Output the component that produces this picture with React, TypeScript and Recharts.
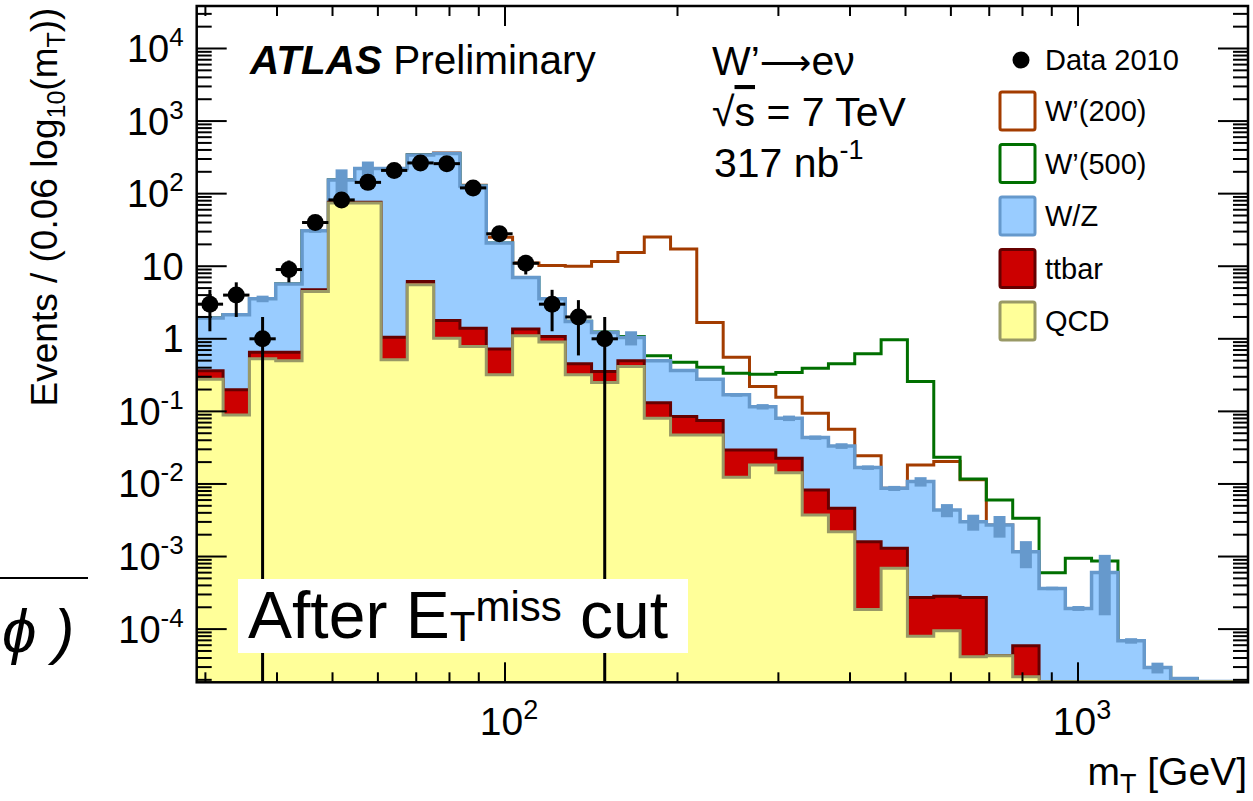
import React from "react";
import { ComposedChart, Area, Scatter, ErrorBar, XAxis, YAxis } from "recharts";

const W = 1253;
const H = 801;
const PLOT_LEFT = 196.7;
const PLOT_TOP = 6;
const PLOT_RIGHT = 1248;
const PLOT_BOTTOM = 682.3;
const X_MIN = 28.97;
const X_MAX = 1980;
const Y_MIN = 1.85e-5;
const Y_MAX = 3.85e4;
const FONT = "'Liberation Sans', Arial, Helvetica, sans-serif";

// m_T bin edges [GeV], 40 bins
const binEdges = [
  28.97, 32.21, 35.81, 39.8, 44.24, 49.18, 54.67, 60.77, 67.53, 75.06, 83.43,
  92.75, 103.1, 114.6, 127.4, 141.6, 157.4, 175.0, 194.5, 216.1, 240.3, 267.1,
  296.9, 330.1, 366.8, 407.7, 453.3, 503.8, 560.1, 622.6, 691.8, 769.2, 855.1,
  950.2, 1056, 1174, 1305, 1451, 1613, 1792, 1992,
];

// stacked levels as drawn: QCD, QCD+ttbar, QCD+ttbar+W/Z
const qcd = [
  0.278, 0.0895, 0.53, 0.5, 4.49, 74.5, 74.5, 0.513, 5.56, 1.02, 0.783, 0.319,
  1.1, 0.9, 0.319, 0.25, 0.415, 0.0805, 0.0474, 0.0474, 0.0124, 0.0183, 0.0143,
  0.00373, 0.0022, 1.87e-4, 6.87e-4, 8.0e-5, 9.5e-5, 4.15e-5, 4.3e-5, 2.2e-5,
  1.9e-5, 1.9e-5, 1.9e-5, 1.9e-5, 1.9e-5, 1.9e-5, 1.9e-5, 1.9e-5,
];
const qcdTtbar = [
  0.362, 0.198, 0.655, 0.655, 4.74, 76, 76, 1.05, 6.17, 1.79, 1.4, 0.721, 1.36,
  1.08, 0.452, 0.354, 0.5, 0.132, 0.0849, 0.0746, 0.0294, 0.0294, 0.0226,
  0.00826, 0.00462, 0.0016, 0.0013, 2.73e-4, 2.83e-4, 2.73e-4, 4.3e-5, 5.9e-5,
  1.9e-5, 1.9e-5, 1.9e-5, 1.9e-5, 1.9e-5, 1.9e-5, 1.9e-5, 1.9e-5,
];
const total = [
  1.93, 2.14, 3.56, 5.68, 30.9, 154, 222, 222, 340, 358, 127, 20.9, 7.0, 3.56,
  1.73, 1.22, 1.04, 0.497, 0.366, 0.278, 0.169, 0.116, 0.0805, 0.0435, 0.0334,
  0.0168, 0.0087, 0.0108, 0.00438, 0.00302, 0.00272, 0.00116, 3.64e-4, 1.93e-4,
  6.05e-4, 6.9e-5, 2.95e-5, 2.09e-5, 1.9e-5, 1.9e-5,
];
// MC stat. uncertainty on the total
const totalErr = [
  0, 0, 0.37, 0, 2, 62, 55, 0, 0, 0, 0, 0, 0, 0, 0, 0, 0.23, 0, 0, 0, 0.01,
  0.01, 0.007, 0.003, 0.003, 0.0012, 0.0007, 0.0016, 0.0009, 0.00075, 0.0009,
  0.00047, 2e-5, 1.5e-5, 4.5e-4, 6e-6, 5e-6, 0, 0, 0,
];
// signal + background
const wPrime200 = [
  1.93, 2.14, 3.56, 5.68, 30.9, 154, 222, 222, 345, 362, 131, 25, 11.1, 10.2,
  9.96, 11.6, 15.5, 25.2, 17.3, 1.68, 0.559, 0.22, 0.157, 0.0943, 0.0568,
  0.0245, 0.0087, 0.0183, 0.0204, 0.0114, 0.00272, 0.00116, 3.64e-4, 1.93e-4,
  6.05e-4, 6.9e-5, 2.95e-5, 2.09e-5, 1.9e-5, 1.9e-5,
];
const wPrime500 = [
  1.93, 2.14, 3.56, 5.68, 30.9, 154, 222, 222, 340, 358, 127, 20.9, 7.0, 3.56,
  1.75, 1.24, 1.08, 0.583, 0.477, 0.407, 0.336, 0.326, 0.343, 0.394, 0.452,
  0.62, 0.97, 0.258, 0.0234, 0.0117, 0.006, 0.00338, 5.97e-4, 9.5e-4, 8.7e-4,
  6.9e-5, 2.95e-5, 2.09e-5, 1.9e-5, 1.9e-5,
];

// Data 2010, first 16 bins
const dataCounts = [3, 4, 1, 9, 40, 82, 143, 209, 265, 259, 120, 28, 11, 3, 2, 1];
const dataErr = [1.73, 2, 1, 3, 6.3, 9.1, 12, 14.5, 16.3, 16.1, 11, 5.3, 3.3, 1.73, 1.41, 1];

const yDecades = [1e-5, 1e-4, 1e-3, 1e-2, 1e-1, 1, 10, 100, 1000, 1e4];
const xDecades = [10, 100, 1000];
const minorSteps = [1, 2, 3, 4, 5, 6, 7, 8, 9];

const yTicks = yDecades
  .flatMap((d) => minorSteps.map((m) => m * d))
  .filter((v) => v >= Y_MIN && v <= Y_MAX);
const xTicks = xDecades
  .flatMap((d) => minorSteps.map((m) => m * d))
  .filter((v) => v >= X_MIN && v <= X_MAX);

const histRows = binEdges.map((x, k) => {
  const i = Math.min(k, total.length - 1);
  return {
    x,
    qcd: qcd[i],
    ttbar: qcdTtbar[i],
    wz: total[i],
    w200: wPrime200[i],
    w500: wPrime500[i],
  };
});

const centre = (k: number) => Math.sqrt(binEdges[k] * binEdges[k + 1]);

const dataRows = dataCounts.map((n, k) => {
  const c = centre(k);
  return {
    x: c,
    y: n,
    ex: [c - binEdges[k], binEdges[k + 1] - c],
    ey: [Math.min(dataErr[k], n - Y_MIN * 1.02), dataErr[k]],
  };
});

const mcRows = total
  .map((v, k) => ({ x: centre(k), y: v, ey: totalErr[k] }))
  .filter((r) => r.ey > 0);

const isPow10 = (v: number) => {
  const e = Math.log10(v);
  return Math.abs(e - Math.round(e)) < 1e-9;
};

const PowLabel = ({ x, y, value, anchor, fs, supFs }: any) => {
  const e = Math.round(Math.log10(value));
  const common = { x, y, textAnchor: anchor, fontSize: fs, fontFamily: FONT, fill: "#000" };
  if (e === 0) return <text {...common}>1</text>;
  if (e === 1) return <text {...common}>10</text>;
  return (
    <text {...common}>
      10
      <tspan dy={-fs * 0.42} fontSize={supFs}>
        {e}
      </tspan>
    </text>
  );
};

const YTick = (props: any) => {
  const { y, payload } = props;
  const major = isPow10(payload.value);
  const len = major ? 30 : 15;
  return (
    <g>
      <line x1={PLOT_LEFT} x2={PLOT_LEFT + len} y1={y} y2={y} stroke="#000" strokeWidth={2} />
      <line x1={PLOT_RIGHT - len} x2={PLOT_RIGHT} y1={y} y2={y} stroke="#000" strokeWidth={2} />
      {major && (
        <PowLabel x={PLOT_LEFT - 13} y={y + 13.5} value={payload.value} anchor="end" fs={38} supFs={26} />
      )}
    </g>
  );
};

const XTick = (props: any) => {
  const { x, payload } = props;
  const major = isPow10(payload.value);
  const len = major ? 20 : 10;
  return (
    <g>
      <line x1={x} x2={x} y1={PLOT_BOTTOM} y2={PLOT_BOTTOM - len} stroke="#000" strokeWidth={2} />
      <line x1={x} x2={x} y1={PLOT_TOP} y2={PLOT_TOP + len} stroke="#000" strokeWidth={2} />
      {major && (
        <PowLabel x={x + 4} y={PLOT_BOTTOM + 53} value={payload.value} anchor="middle" fs={39} supFs={27} />
      )}
    </g>
  );
};

const legendItems = [
  { label: "W\u2019(200)", fill: "#ffffff", stroke: "#a33c00" },
  { label: "W\u2019(500)", fill: "#ffffff", stroke: "#006f00" },
  { label: "W/Z", fill: "#99ccff", stroke: "#6699cc" },
  { label: "ttbar", fill: "#cc0000", stroke: "#660000" },
  { label: "QCD", fill: "#ffff99", stroke: "#999966" },
];

const noShape = () => <g />;
const dot = (p: any) => <circle cx={p.cx} cy={p.cy} r={8.5} fill="#000" />;

export default function App() {
  return (
    <div style={{ position: "absolute", left: 0, top: 0, width: W, height: H, background: "#fff" }}>
      <ComposedChart
        width={W}
        height={H}
        data={histRows}
        margin={{ top: PLOT_TOP, right: W - PLOT_RIGHT, bottom: 58.7, left: 46.7 }}
      >
        <Area type="stepAfter" dataKey="w200" stroke="#a33c00" strokeWidth={3} fill="none"
          baseValue={Y_MIN} dot={false} activeDot={false} isAnimationActive={false} />
        <Area type="stepAfter" dataKey="w500" stroke="#006f00" strokeWidth={3} fill="none"
          baseValue={Y_MIN} dot={false} activeDot={false} isAnimationActive={false} />
        <Area type="stepAfter" dataKey="wz" stroke="#6699cc" strokeWidth={3.5} fill="#99ccff" fillOpacity={1}
          baseValue={Y_MIN} dot={false} activeDot={false} isAnimationActive={false} />
        <Area type="stepAfter" dataKey="ttbar" stroke="#660000" strokeWidth={3} fill="#cc0000" fillOpacity={1}
          baseValue={Y_MIN} dot={false} activeDot={false} isAnimationActive={false} />
        <Area type="stepAfter" dataKey="qcd" stroke="#999966" strokeWidth={3} fill="#ffff99" fillOpacity={1}
          baseValue={Y_MIN} dot={false} activeDot={false} isAnimationActive={false} />
        <Scatter data={mcRows} dataKey="y" shape={noShape} isAnimationActive={false}>
          <ErrorBar dataKey="ey" direction="y" width={0} stroke="#6699cc" strokeWidth={12} isAnimationActive={false} />
        </Scatter>
        <Scatter data={dataRows} dataKey="y" shape={dot} isAnimationActive={false}>
          <ErrorBar dataKey="ey" direction="y" width={0} stroke="#000" strokeWidth={3} isAnimationActive={false} />
          <ErrorBar dataKey="ex" direction="x" width={0} stroke="#000" strokeWidth={3} isAnimationActive={false} />
        </Scatter>
        <XAxis
          dataKey="x"
          type="number"
          scale="log"
          domain={[X_MIN, X_MAX]}
          allowDataOverflow
          ticks={xTicks}
          interval={0}
          tick={<XTick />}
          tickLine={false}
          axisLine={false}
          height={60}
        />
        <YAxis
          type="number"
          scale="log"
          domain={[Y_MIN, Y_MAX]}
          allowDataOverflow
          ticks={yTicks}
          interval={0}
          tick={<YTick />}
          tickLine={false}
          axisLine={false}
          width={150}
        />
      </ComposedChart>

      <svg
        width={W}
        height={H}
        style={{ position: "absolute", left: 0, top: 0, pointerEvents: "none" }}
        fontFamily={FONT}
      >
        <rect
          x={PLOT_LEFT}
          y={PLOT_TOP}
          width={PLOT_RIGHT - PLOT_LEFT}
          height={PLOT_BOTTOM - PLOT_TOP}
          fill="none"
          stroke="#000"
          strokeWidth={2.5}
        />

        {/* label box */}
        <rect x={238} y={579} width={450} height={74} fill="#fff" />
        <text x={248} y={638} fontSize={66}>
          After E
          <tspan dy={3} fontSize={42}>T</tspan>
          <tspan dy={-20} fontSize={42}>miss</tspan>
          <tspan dy={17}> cut</tspan>
        </text>

        <text x={250} y={74} fontSize={40.5}>
          <tspan fontWeight="bold" fontStyle="italic">ATLAS</tspan>
          <tspan> Preliminary</tspan>
        </text>
        <text x={712} y={75} fontSize={41}>
          W{"\u2019"}
          <tspan fontFamily="'DejaVu Sans', sans-serif" fontSize={36}>{"\u27f6"}</tspan>
          e{"\u03bd"}
        </text>
        <text x={712} y={126} fontSize={41}>
          {"\u221a"}
          <tspan style={{ textDecoration: "overline" }}>s</tspan> = 7 TeV
        </text>
        <text x={714} y={177} fontSize={41}>
          317 nb
          <tspan dy={-18} fontSize={27}>-1</tspan>
        </text>

        {/* legend */}
        <circle cx={1021} cy={60} r={8.5} fill="#000" />
        <text x={1045} y={70} fontSize={29}>Data 2010</text>
        {legendItems.map((it, i) => {
          const cy = 111 + i * 52.5;
          return (
            <g key={it.label}>
              <rect x={1000} y={cy - 19} width={35} height={38} rx={2} fill={it.fill} stroke={it.stroke} strokeWidth={3} />
              <text x={1045} y={cy + 10} fontSize={29}>{it.label}</text>
            </g>
          );
        })}

        {/* axis titles */}
        <text transform="translate(57,207) rotate(-90)" textAnchor="middle" fontSize={37}>
          Events / (0.06 log
          <tspan dy={8} fontSize={25}>10</tspan>
          <tspan dy={-8}>(m</tspan>
          <tspan dy={8} fontSize={25}>T</tspan>
          <tspan dy={-8}>))</tspan>
        </text>
        <text x={1247} y={785} textAnchor="end" fontSize={39}>
          m<tspan dy={8} fontSize={27}>T</tspan>
          <tspan dy={-8}> [GeV]</tspan>
        </text>

        {/* fragment at left edge */}
        <line x1={0} x2={88} y1={578} y2={578} stroke="#000" strokeWidth={2} />
        <text x={2} y={652} fontSize={62} fontStyle="italic">{"\u03d5 )"}</text>
      </svg>
    </div>
  );
}
